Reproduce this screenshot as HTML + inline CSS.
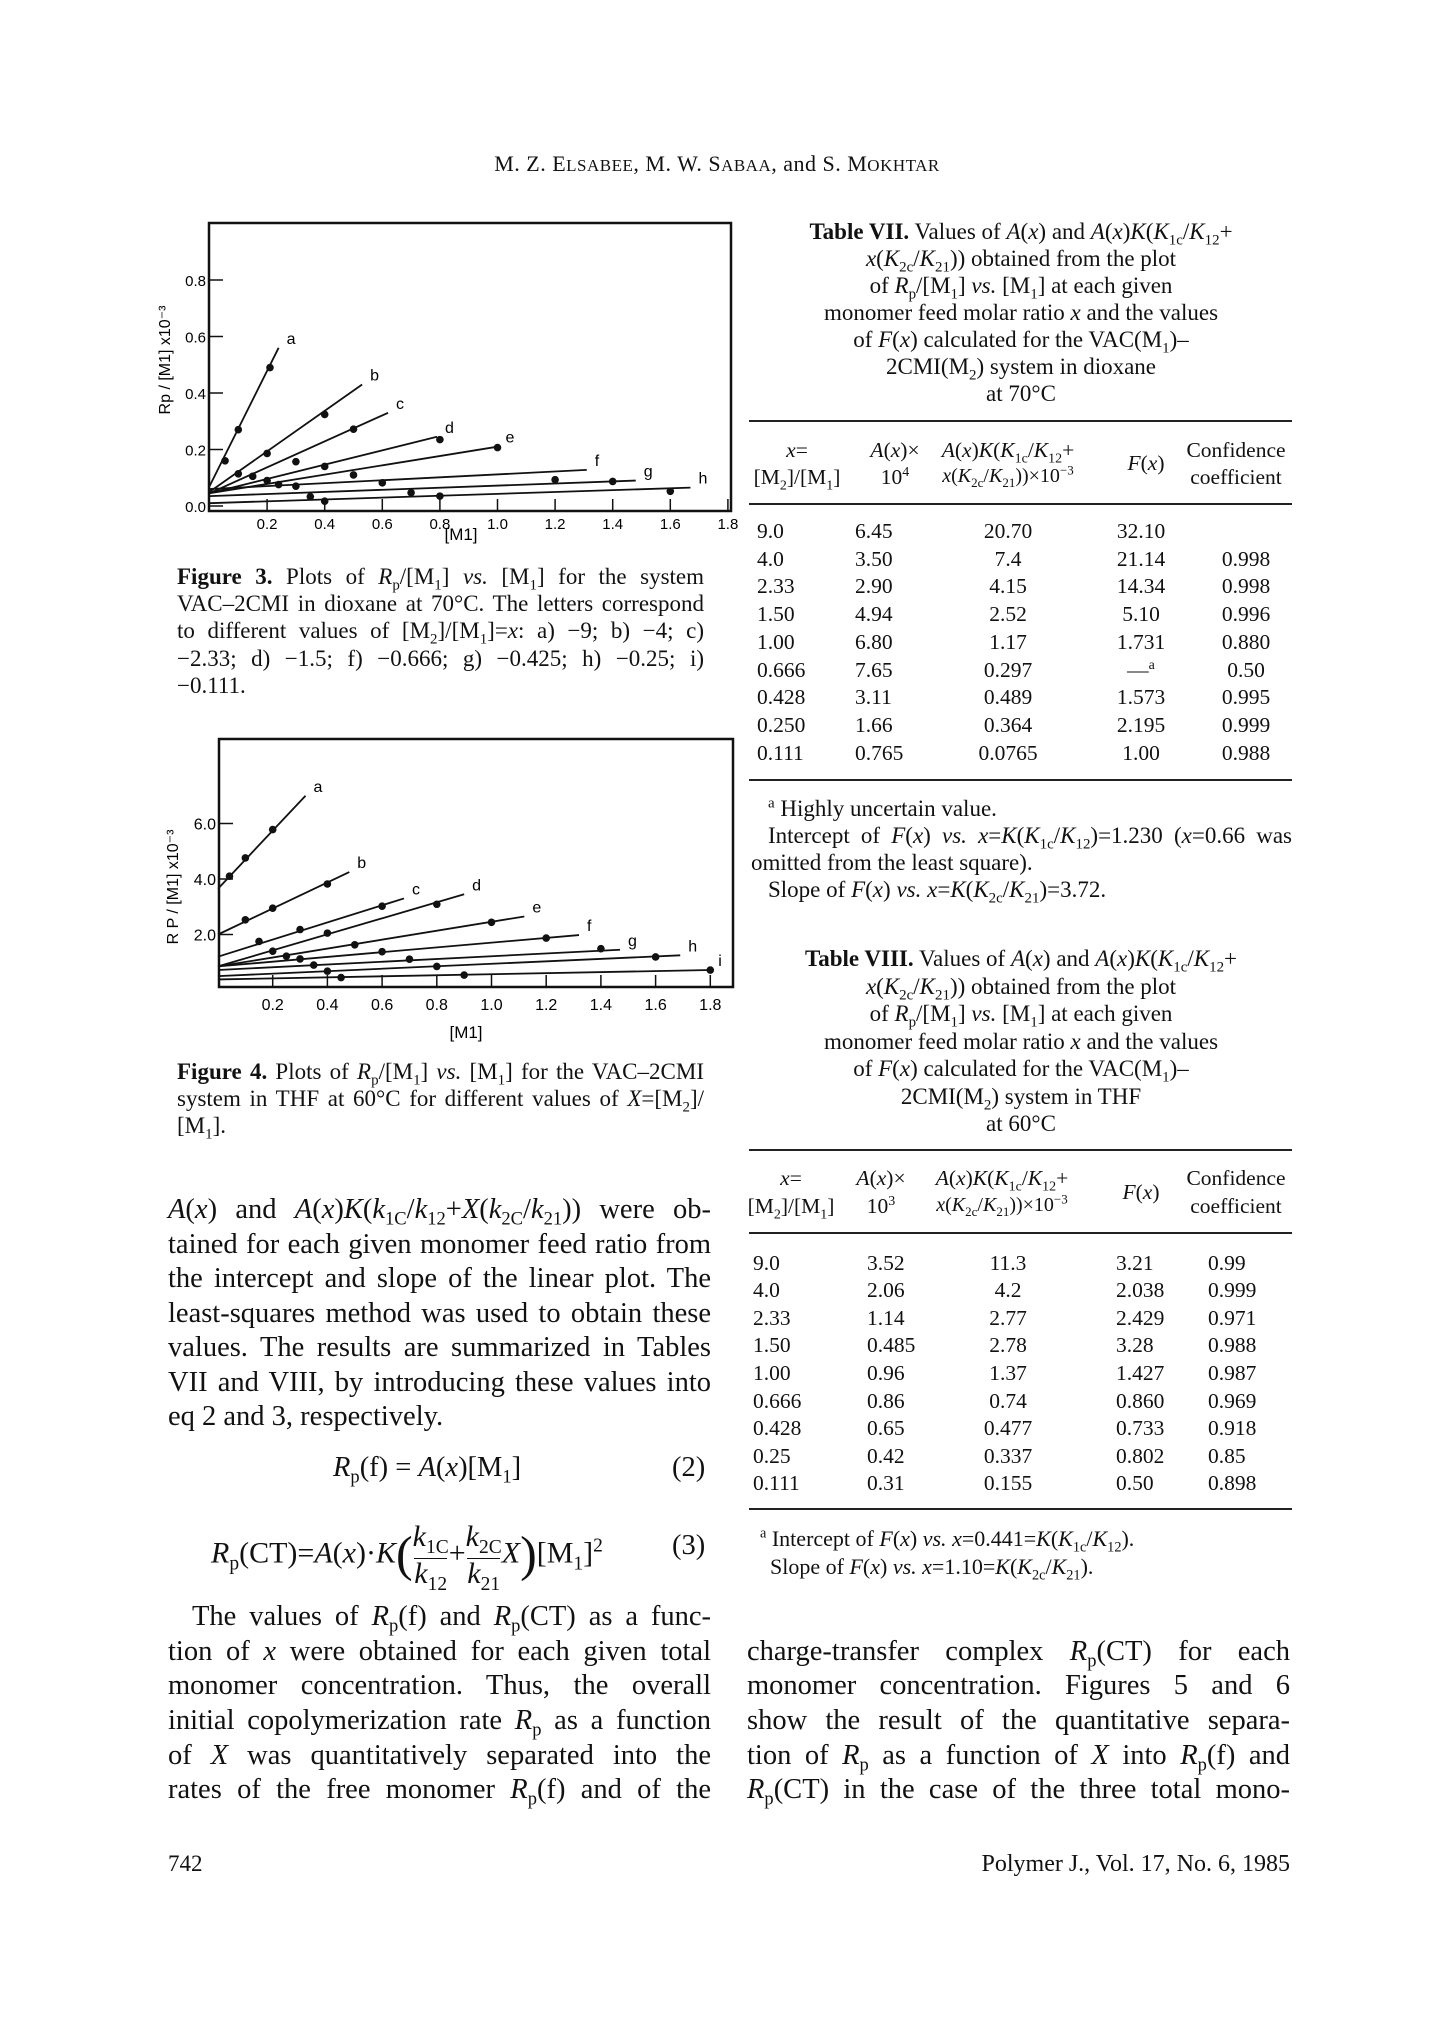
<!DOCTYPE html>
<html><head><meta charset="utf-8">
<style>
body{margin:0;width:1434px;height:2023px;background:#fff;position:relative;overflow:hidden;font-family:"Liberation Serif",serif;color:#111;}
.a{position:absolute;white-space:nowrap;}
.c{position:absolute;text-align:center;white-space:nowrap;}
.j{position:absolute;text-align:justify;text-align-last:justify;white-space:nowrap;}
.rule{position:absolute;height:1.5px;background:#222;}
.row{position:absolute;left:0;width:1434px;height:26px;font-size:21.5px;}
.row span{position:absolute;text-align:center;}
i{font-style:italic;}
sub,sup{font-size:65%;line-height:0;}
.frac{display:inline-flex;flex-direction:column;align-items:center;vertical-align:middle;line-height:30px;}
.frac .num{padding-bottom:6px;}
.frac .den{border-top:1.5px solid #111;padding-top:0px;}
</style></head><body>
<div class="c" style="left:400px;width:634px;top:151px;font-size:22px;letter-spacing:0.5px">M. Z. E<span style="font-size:17px">LSABEE</span>, M. W. S<span style="font-size:17px">ABAA</span>, and S. M<span style="font-size:17px">OKHTAR</span></div>

<svg id="fig3" class="a" style="left:0;top:0" width="760" height="560"></svg>
<svg id="fig4" class="a" style="left:0;top:700px" width="760" height="360"></svg>

<div style="font-size:23px">
<div class="j" style="left:177px;width:527px;top:564px"><b>Figure 3.</b> Plots of <i>R</i><sub>p</sub>/[M<sub>1</sub>] <i>vs.</i> [M<sub>1</sub>] for the system</div>
<div class="j" style="left:177px;width:527px;top:591px">VAC–2CMI in dioxane at 70°C. The letters correspond</div>
<div class="j" style="left:177px;width:527px;top:618px">to different values of [M<sub>2</sub>]/[M<sub>1</sub>]=<i>x</i>: a) −9; b) −4; c)</div>
<div class="j" style="left:177px;width:527px;top:646px">−2.33; d) −1.5; f) −0.666; g) −0.425; h) −0.25; i)</div>
<div class="a" style="left:177px;top:673px">−0.111.</div>
</div>
<div style="font-size:23px">
<div class="j" style="left:177px;width:527px;top:1059px"><b>Figure 4.</b> Plots of <i>R</i><sub>p</sub>/[M<sub>1</sub>] <i>vs.</i> [M<sub>1</sub>] for the VAC–2CMI</div>
<div class="j" style="left:177px;width:527px;top:1086px">system in THF at 60°C for different values of <i>X</i>=[M<sub>2</sub>]/</div>
<div class="a" style="left:177px;top:1113px">[M<sub>1</sub>].</div>
</div>

<div style="font-size:28.5px">
<div class="j" style="left:168px;width:543px;top:1194px"><i>A</i>(<i>x</i>) and <i>A</i>(<i>x</i>)<i>K</i>(<i>k</i><sub>1C</sub>/<i>k</i><sub>12</sub>+<i>X</i>(<i>k</i><sub>2C</sub>/<i>k</i><sub>21</sub>)) were ob-</div>
<div class="j" style="left:168px;width:543px;top:1229px">tained for each given monomer feed ratio from</div>
<div class="j" style="left:168px;width:543px;top:1263px">the intercept and slope of the linear plot. The</div>
<div class="j" style="left:168px;width:543px;top:1298px">least-squares method was used to obtain these</div>
<div class="j" style="left:168px;width:543px;top:1332px">values. The results are summarized in Tables</div>
<div class="j" style="left:168px;width:543px;top:1367px">VII and VIII, by introducing these values into</div>
<div class="a" style="left:168px;top:1401px">eq 2 and 3, respectively.</div>
<div class="a" style="left:333px;top:1452px"><i>R</i><sub>p</sub>(f) = <i>A</i>(<i>x</i>)[M<sub>1</sub>]</div>
<div class="a" style="left:672px;top:1452px">(2)</div>
<div class="a" style="left:211px;top:1522px;font-size:30px"><i>R</i><sub>p</sub>(CT)=<i>A</i>(<i>x</i>)·<i>K</i><span style="font-size:50px;vertical-align:-8px">(</span><span class="frac"><span class="num"><i>k</i><sub>1C</sub></span><span class="den"><i>k</i><sub>12</sub></span></span>+<span class="frac"><span class="num"><i>k</i><sub>2C</sub></span><span class="den"><i>k</i><sub>21</sub></span></span><i>X</i><span style="font-size:50px;vertical-align:-8px">)</span>[M<sub>1</sub>]<sup>2</sup></div>
<div class="a" style="left:672px;top:1530px">(3)</div>
<div class="j" style="left:192px;width:519px;top:1601px">The values of <i>R</i><sub>p</sub>(f) and <i>R</i><sub>p</sub>(CT) as a func-</div>
<div class="j" style="left:168px;width:543px;top:1636px">tion of <i>x</i> were obtained for each given total</div>
<div class="j" style="left:168px;width:543px;top:1670px">monomer concentration. Thus, the overall</div>
<div class="j" style="left:168px;width:543px;top:1705px">initial copolymerization rate <i>R</i><sub>p</sub> as a function</div>
<div class="j" style="left:168px;width:543px;top:1740px">of <i>X</i> was quantitatively separated into the</div>
<div class="j" style="left:168px;width:543px;top:1774px">rates of the free monomer <i>R</i><sub>p</sub>(f) and of the</div>
</div>
<div style="font-size:28.5px">
<div class="j" style="left:747px;width:543px;top:1636px">charge-transfer complex <i>R</i><sub>p</sub>(CT) for each</div>
<div class="j" style="left:747px;width:543px;top:1670px">monomer concentration. Figures 5 and 6</div>
<div class="j" style="left:747px;width:543px;top:1705px">show the result of the quantitative separa-</div>
<div class="j" style="left:747px;width:543px;top:1740px">tion of <i>R</i><sub>p</sub> as a function of <i>X</i> into <i>R</i><sub>p</sub>(f) and</div>
<div class="j" style="left:747px;width:543px;top:1774px"><i>R</i><sub>p</sub>(CT) in the case of the three total mono-</div>
</div>
<div class="a" style="left:168px;top:1851px;font-size:23px">742</div>
<div class="a" style="right:144px;top:1851px;font-size:24px">Polymer J., Vol. 17, No. 6, 1985</div>

<!-- Table VII -->
<div style="font-size:23px">
<div class="c" style="left:721px;width:600px;top:219px"><b>Table VII.</b> Values of <i>A</i>(<i>x</i>) and <i>A</i>(<i>x</i>)<i>K</i>(<i>K</i><sub>1c</sub>/<i>K</i><sub>12</sub>+</div>
<div class="c" style="left:721px;width:600px;top:246px"><i>x</i>(<i>K</i><sub>2c</sub>/<i>K</i><sub>21</sub>)) obtained from the plot</div>
<div class="c" style="left:721px;width:600px;top:273px">of <i>R</i><sub>p</sub>/[M<sub>1</sub>] <i>vs.</i> [M<sub>1</sub>] at each given</div>
<div class="c" style="left:721px;width:600px;top:300px">monomer feed molar ratio <i>x</i> and the values</div>
<div class="c" style="left:721px;width:600px;top:327px">of <i>F</i>(<i>x</i>) calculated for the VAC(M<sub>1</sub>)–</div>
<div class="c" style="left:721px;width:600px;top:354px">2CMI(M<sub>2</sub>) system in dioxane</div>
<div class="c" style="left:721px;width:600px;top:381px">at 70°C</div>
</div>
<div>
<div class="rule" style="left:749px;width:543px;top:420px"></div>
<div class="row" style="top:438px"><span style="left:757px;width:80px"><i>x</i>=</span><span style="left:850px;width:90px"><i>A</i>(<i>x</i>)×</span><span style="left:908px;width:200px"><i>A</i>(<i>x</i>)<i>K</i>(<i>K</i><sub>1c</sub>/<i>K</i><sub>12</sub>+</span><span style="left:1176px;width:120px">Confidence</span></div>
<div class="row" style="top:451px"><span style="left:1096px;width:100px"><i>F</i>(<i>x</i>)</span></div>
<div class="row" style="top:465px"><span style="left:747px;width:100px">[M<sub>2</sub>]/[M<sub>1</sub>]</span><span style="left:850px;width:90px">10<sup>4</sup></span><span style="left:898px;width:220px;font-size:20px"><i>x</i>(<i>K</i><sub>2c</sub>/<i>K</i><sub>21</sub>))×10<sup>−3</sup></span><span style="left:1176px;width:120px">coefficient</span></div>
<div class="rule" style="left:749px;width:543px;top:503px"></div>
<div class="row" style="top:519px"><span style="left:757px;width:60px;text-align:left">9.0</span><span style="left:855px;width:80px;text-align:left">6.45</span><span style="left:968px;width:80px">20.70</span><span style="left:1096px;width:90px">32.10</span><span style="left:1206px;width:80px"></span></div>
<div class="row" style="top:547px"><span style="left:757px;width:60px;text-align:left">4.0</span><span style="left:855px;width:80px;text-align:left">3.50</span><span style="left:968px;width:80px">7.4</span><span style="left:1096px;width:90px">21.14</span><span style="left:1206px;width:80px">0.998</span></div>
<div class="row" style="top:574px"><span style="left:757px;width:60px;text-align:left">2.33</span><span style="left:855px;width:80px;text-align:left">2.90</span><span style="left:968px;width:80px">4.15</span><span style="left:1096px;width:90px">14.34</span><span style="left:1206px;width:80px">0.998</span></div>
<div class="row" style="top:602px"><span style="left:757px;width:60px;text-align:left">1.50</span><span style="left:855px;width:80px;text-align:left">4.94</span><span style="left:968px;width:80px">2.52</span><span style="left:1096px;width:90px">5.10</span><span style="left:1206px;width:80px">0.996</span></div>
<div class="row" style="top:630px"><span style="left:757px;width:60px;text-align:left">1.00</span><span style="left:855px;width:80px;text-align:left">6.80</span><span style="left:968px;width:80px">1.17</span><span style="left:1096px;width:90px">1.731</span><span style="left:1206px;width:80px">0.880</span></div>
<div class="row" style="top:658px"><span style="left:757px;width:60px;text-align:left">0.666</span><span style="left:855px;width:80px;text-align:left">7.65</span><span style="left:968px;width:80px">0.297</span><span style="left:1096px;width:90px">—<sup>a</sup></span><span style="left:1206px;width:80px">0.50</span></div>
<div class="row" style="top:685px"><span style="left:757px;width:60px;text-align:left">0.428</span><span style="left:855px;width:80px;text-align:left">3.11</span><span style="left:968px;width:80px">0.489</span><span style="left:1096px;width:90px">1.573</span><span style="left:1206px;width:80px">0.995</span></div>
<div class="row" style="top:713px"><span style="left:757px;width:60px;text-align:left">0.250</span><span style="left:855px;width:80px;text-align:left">1.66</span><span style="left:968px;width:80px">0.364</span><span style="left:1096px;width:90px">2.195</span><span style="left:1206px;width:80px">0.999</span></div>
<div class="row" style="top:741px"><span style="left:757px;width:60px;text-align:left">0.111</span><span style="left:855px;width:80px;text-align:left">0.765</span><span style="left:968px;width:80px">0.0765</span><span style="left:1096px;width:90px">1.00</span><span style="left:1206px;width:80px">0.988</span></div>
<div class="rule" style="left:749px;width:543px;top:779px"></div>
</div>
<div style="font-size:23px">
<div class="a" style="left:768px;top:796px"><sup>a</sup> Highly uncertain value.</div>
<div class="j" style="left:768px;width:524px;top:823px">Intercept of <i>F</i>(<i>x</i>) <i>vs.</i> <i>x</i>=<i>K</i>(<i>K</i><sub>1c</sub>/<i>K</i><sub>12</sub>)=1.230 (<i>x</i>=0.66 was</div>
<div class="a" style="left:751px;top:850px">omitted from the least square).</div>
<div class="a" style="left:768px;top:877px">Slope of <i>F</i>(<i>x</i>) <i>vs.</i> <i>x</i>=<i>K</i>(<i>K</i><sub>2c</sub>/<i>K</i><sub>21</sub>)=3.72.</div>
</div>

<!-- Table VIII -->
<div style="font-size:23px">
<div class="c" style="left:721px;width:600px;top:946px"><b>Table VIII.</b> Values of <i>A</i>(<i>x</i>) and <i>A</i>(<i>x</i>)<i>K</i>(<i>K</i><sub>1c</sub>/<i>K</i><sub>12</sub>+</div>
<div class="c" style="left:721px;width:600px;top:974px"><i>x</i>(<i>K</i><sub>2c</sub>/<i>K</i><sub>21</sub>)) obtained from the plot</div>
<div class="c" style="left:721px;width:600px;top:1001px">of <i>R</i><sub>p</sub>/[M<sub>1</sub>] <i>vs.</i> [M<sub>1</sub>] at each given</div>
<div class="c" style="left:721px;width:600px;top:1029px">monomer feed molar ratio <i>x</i> and the values</div>
<div class="c" style="left:721px;width:600px;top:1056px">of <i>F</i>(<i>x</i>) calculated for the VAC(M<sub>1</sub>)–</div>
<div class="c" style="left:721px;width:600px;top:1084px">2CMI(M<sub>2</sub>) system in THF</div>
<div class="c" style="left:721px;width:600px;top:1111px">at 60°C</div>
</div>
<div>
<div class="rule" style="left:749px;width:543px;top:1149px"></div>
<div class="row" style="top:1166px"><span style="left:746px;width:90px"><i>x</i>=</span><span style="left:836px;width:90px"><i>A</i>(<i>x</i>)×</span><span style="left:902px;width:200px"><i>A</i>(<i>x</i>)<i>K</i>(<i>K</i><sub>1c</sub>/<i>K</i><sub>12</sub>+</span><span style="left:1176px;width:120px">Confidence</span></div>
<div class="row" style="top:1180px"><span style="left:1091px;width:100px"><i>F</i>(<i>x</i>)</span></div>
<div class="row" style="top:1194px"><span style="left:741px;width:100px">[M<sub>2</sub>]/[M<sub>1</sub>]</span><span style="left:836px;width:90px">10<sup>3</sup></span><span style="left:892px;width:220px;font-size:20px"><i>x</i>(<i>K</i><sub>2c</sub>/<i>K</i><sub>21</sub>))×10<sup>−3</sup></span><span style="left:1176px;width:120px">coefficient</span></div>
<div class="rule" style="left:749px;width:543px;top:1232px"></div>
<div class="row" style="top:1251px"><span style="left:753px;width:60px;text-align:left">9.0</span><span style="left:867px;width:80px;text-align:left">3.52</span><span style="left:968px;width:80px">11.3</span><span style="left:1116px;width:80px;text-align:left">3.21</span><span style="left:1208px;width:80px;text-align:left">0.99</span></div>
<div class="row" style="top:1278px"><span style="left:753px;width:60px;text-align:left">4.0</span><span style="left:867px;width:80px;text-align:left">2.06</span><span style="left:968px;width:80px">4.2</span><span style="left:1116px;width:80px;text-align:left">2.038</span><span style="left:1208px;width:80px;text-align:left">0.999</span></div>
<div class="row" style="top:1306px"><span style="left:753px;width:60px;text-align:left">2.33</span><span style="left:867px;width:80px;text-align:left">1.14</span><span style="left:968px;width:80px">2.77</span><span style="left:1116px;width:80px;text-align:left">2.429</span><span style="left:1208px;width:80px;text-align:left">0.971</span></div>
<div class="row" style="top:1333px"><span style="left:753px;width:60px;text-align:left">1.50</span><span style="left:867px;width:80px;text-align:left">0.485</span><span style="left:968px;width:80px">2.78</span><span style="left:1116px;width:80px;text-align:left">3.28</span><span style="left:1208px;width:80px;text-align:left">0.988</span></div>
<div class="row" style="top:1361px"><span style="left:753px;width:60px;text-align:left">1.00</span><span style="left:867px;width:80px;text-align:left">0.96</span><span style="left:968px;width:80px">1.37</span><span style="left:1116px;width:80px;text-align:left">1.427</span><span style="left:1208px;width:80px;text-align:left">0.987</span></div>
<div class="row" style="top:1389px"><span style="left:753px;width:60px;text-align:left">0.666</span><span style="left:867px;width:80px;text-align:left">0.86</span><span style="left:968px;width:80px">0.74</span><span style="left:1116px;width:80px;text-align:left">0.860</span><span style="left:1208px;width:80px;text-align:left">0.969</span></div>
<div class="row" style="top:1416px"><span style="left:753px;width:60px;text-align:left">0.428</span><span style="left:867px;width:80px;text-align:left">0.65</span><span style="left:968px;width:80px">0.477</span><span style="left:1116px;width:80px;text-align:left">0.733</span><span style="left:1208px;width:80px;text-align:left">0.918</span></div>
<div class="row" style="top:1444px"><span style="left:753px;width:60px;text-align:left">0.25</span><span style="left:867px;width:80px;text-align:left">0.42</span><span style="left:968px;width:80px">0.337</span><span style="left:1116px;width:80px;text-align:left">0.802</span><span style="left:1208px;width:80px;text-align:left">0.85</span></div>
<div class="row" style="top:1471px"><span style="left:753px;width:60px;text-align:left">0.111</span><span style="left:867px;width:80px;text-align:left">0.31</span><span style="left:968px;width:80px">0.155</span><span style="left:1116px;width:80px;text-align:left">0.50</span><span style="left:1208px;width:80px;text-align:left">0.898</span></div>
<div class="rule" style="left:749px;width:543px;top:1508px"></div>
</div>
<div style="font-size:22px">
<div class="a" style="left:760px;top:1526px"><sup>a</sup> Intercept of <i>F</i>(<i>x</i>) <i>vs.</i> <i>x</i>=0.441=<i>K</i>(<i>K</i><sub>1c</sub>/<i>K</i><sub>12</sub>).</div>
<div class="a" style="left:770px;top:1554px">Slope of <i>F</i>(<i>x</i>) <i>vs.</i> <i>x</i>=1.10=<i>K</i>(<i>K</i><sub>2c</sub>/<i>K</i><sub>21</sub>).</div>
</div>

<script>
// Figure 3 data
const f3Labels = ["a","b","c","d","e","f","g","h"];
const f3LineStart = [0.07,0.05,0.045,0.045,0.045,0.06,0.035,0.01];
const f3LineEndX = [0.24,0.53,0.62,0.79,1.0,1.31,1.48,1.67];
const f3LineEndY = [0.56,0.43,0.33,0.245,0.21,0.128,0.09,0.065];
const f3PtsX = [[0.054,0.1,0.21],[0.1,0.2,0.4],[0.15,0.3,0.5],[0.2,0.4,0.8],[0.24,0.5,1.0],[0.3,0.6,1.2],[0.35,0.7,1.4],[0.4,0.8,1.6]];
const f3PtsY = [[0.16,0.27,0.49],[0.114,0.186,0.324],[0.105,0.157,0.272],[0.09,0.14,0.235],[0.076,0.11,0.207],[0.07,0.082,0.093],[0.033,0.047,0.087],[0.017,0.035,0.052]];
const f3XTicks = [0.2,0.4,0.6,0.8,1.0,1.2,1.4,1.6,1.8];
const f3XTickLabels = ["0.2","0.4","0.6","0.8","1.0","1.2","1.4","1.6","1.8"];
const f3YTicks = [0.0,0.2,0.4,0.6,0.8];
const f3YTickLabels = ["0.0","0.2","0.4","0.6","0.8"];
// Figure 4 data
const f4Labels = ["a","b","c","d","e","f","g","h","i"];
const f4LineStart = [3.65,2.0,1.2,0.85,0.85,0.85,0.72,0.5,0.38];
const f4LineEndX = [0.32,0.48,0.68,0.9,1.12,1.32,1.47,1.69,1.8];
const f4LineEndY = [7.0,4.25,3.3,3.45,2.65,1.98,1.45,1.25,0.72];
const f4PtsX = [[0.042,0.1,0.2],[0.1,0.2,0.4],[0.15,0.3,0.6],[0.2,0.4,0.8],[0.25,0.5,1.0],[0.3,0.6,1.2],[0.35,0.7,1.4],[0.4,0.8,1.6],[0.45,0.9,1.8]];
const f4PtsY = [[4.1,4.76,5.78],[2.53,2.95,3.82],[1.75,2.18,3.02],[1.4,2.05,3.09],[1.22,1.63,2.44],[1.12,1.38,1.87],[0.9,1.11,1.49],[0.68,0.85,1.19],[0.45,0.54,0.72]];
const f4XTicks = [0.2,0.4,0.6,0.8,1.0,1.2,1.4,1.6,1.8];
const f4XTickLabels = ["0.2","0.4","0.6","0.8","1.0","1.2","1.4","1.6","1.8"];
const f4YTicks = [2.0,4.0,6.0];
const f4YTickLabels = ["2.0","4.0","6.0"];

const NS="http://www.w3.org/2000/svg";
function mk(svg,tag,attrs,text){const e=document.createElementNS(NS,tag);for(const k in attrs)e.setAttribute(k,attrs[k]);if(text!==undefined)e.textContent=text;svg.appendChild(e);return e;}

function drawChart(svg,cfg){
  const X=v=>cfg.x0+v*cfg.xs, Y=v=>cfg.y0-v*cfg.ys;
  const box=mk(svg,'rect',{x:cfg.bl,y:cfg.bt,width:cfg.br-cfg.bl,height:cfg.bb-cfg.bt,fill:'none',stroke:'#111','stroke-width':2.5});
  
  
  cfg.xt.forEach((t,i)=>{
    const l=mk(svg,'line',{x1:X(t),x2:X(t),y1:cfg.bb,y2:cfg.bb-12,stroke:'#111','stroke-width':1.5});
    
    
    const tx=mk(svg,'text',{x:X(t),y:cfg.bb+cfg.xlo,'font-size':cfg.fs,'text-anchor':'middle','font-family':'Liberation Sans, sans-serif'},cfg.xl[i]);
    
    
  });
  cfg.yt.forEach((t,i)=>{
    const l=mk(svg,'line',{x1:cfg.bl,x2:cfg.bl+14,y1:Y(t),y2:Y(t),stroke:'#111','stroke-width':1.5});
    
    
    const tx=mk(svg,'text',{x:cfg.bl-3,y:Y(t)+6,'font-size':cfg.fs,'text-anchor':'end','font-family':'Liberation Sans, sans-serif'},cfg.yl[i]);
    
    
  });
  cfg.labels.forEach((lab,i)=>{
    const ln=mk(svg,'line',{x1:X(0),y1:Y(cfg.ls[i]),x2:X(cfg.lex[i]),y2:Y(cfg.ley[i]),stroke:'#111','stroke-width':1.8});
    
    
    cfg.px[i].forEach((px,j)=>{
      const c=mk(svg,'circle',{cx:X(px),cy:Y(cfg.py[i][j]),r:3.8,fill:'#111'});
      
      
    });
    const t=mk(svg,'text',{x:X(cfg.lex[i])+8,y:Y(cfg.ley[i])-4,'font-size':16,'font-family':'Liberation Sans, sans-serif'},lab);
    
    
  });
  const xl=mk(svg,'text',{x:cfg.xlx,y:cfg.xly,'font-size':17,'text-anchor':'middle','font-family':'Liberation Sans, sans-serif'},'[M1]');
  
  
  const yl=mk(svg,'text',{x:0,y:0,'font-size':16,'text-anchor':'middle','font-family':'Liberation Sans, sans-serif',transform:`translate(${cfg.ylx},${cfg.yly}) rotate(-90)`},cfg.ytitle);
  
  
}
drawChart(document.getElementById('fig3'),{x0:209.5,xs:288,y0:506,ys:282.5,bl:209,bt:223,br:731,bb:511,fs:15,xlo:18,
  xt:f3XTicks,xl:f3XTickLabels,yt:f3YTicks,yl:f3YTickLabels,labels:f3Labels,ls:f3LineStart,lex:f3LineEndX,ley:f3LineEndY,px:f3PtsX,py:f3PtsY,
  xlx:461,xly:540,ylx:170,yly:360,ytitle:'Rp / [M1]  x10⁻³'});
drawChart(document.getElementById('fig4'),{x0:218,xs:273.5,y0:290,ys:27.75,bl:219,bt:39,br:733,bb:287,fs:16,xlo:23,
  xt:f4XTicks,xl:f4XTickLabels,yt:f4YTicks,yl:f4YTickLabels,labels:f4Labels,ls:f4LineStart,lex:f4LineEndX,ley:f4LineEndY,px:f4PtsX,py:f4PtsY,
  xlx:466,xly:338,ylx:178,yly:187,ytitle:'R P / [M1]   x10⁻³'});
</script>
</body></html>
